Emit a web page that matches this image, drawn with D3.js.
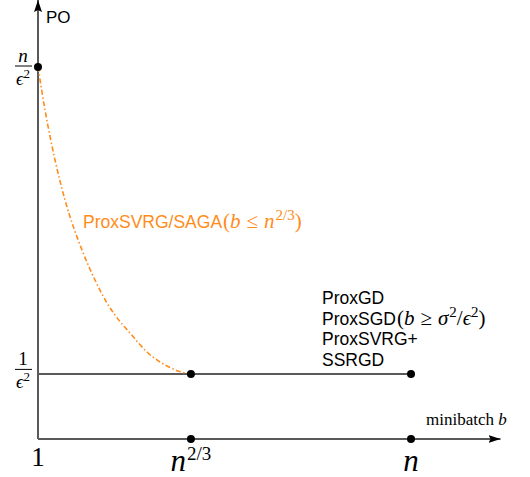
<!DOCTYPE html>
<html>
<head>
<meta charset="utf-8">
<script src="https://cdn.jsdelivr.net/npm/d3@7"></script>
<style>
  body { margin: 0; background: #fff; }
  .sans { font-family: "Liberation Sans", Arial, sans-serif; }
  .math { font-family: "Liberation Serif", "DejaVu Serif", serif; font-style: italic; }
  .rm { font-family: "Liberation Serif", "DejaVu Serif", serif; }
</style>
</head>
<body>
<div id="chart"></div>
<script>
// marked points (minibatch position, PO level), both on a conceptual 0..1 scale
var pointB = [0, 0.41, 1, 0.41, 1];
var pointPO = [1, 0.175, 0.175, 0, 0];

// tick positions and labels
var xTickPos = [0, 0.41, 1];
var xTickBase = ["1", "n", "n"];
var xTickSup = ["", "2/3", ""];
var yTickPos = [1, 0.175];
var yTickNum = ["n", "1"];

// ProxSVRG/SAGA curve
var curveB = [0, 0.0188, 0.0456, 0.0724, 0.118, 0.1528, 0.185, 0.2064, 0.2466, 0.2922, 0.3458, 0.3753, 0.41];
var curvePO = [1, 0.8844, 0.75, 0.6425, 0.5081, 0.4274, 0.3656, 0.3333, 0.2849, 0.2339, 0.1962, 0.1828, 0.175];

// flat line for ProxGD etc.
var flatB = [0, 1];
var flatPO = [0.175, 0.175];

var labelLines = ["ProxGD", "ProxSGD", "ProxSVRG+", "SSRGD"];

var width = 530, height = 477;
var grey = "#5a5a5a", orange = "#ff8c1a";

var svg = d3.select("#chart")
    .append("svg")
    .attr("width", width)
    .attr("height", height);

var x = d3.scaleLinear().domain([0, 1]).range([38, 411]);
var y = d3.scaleLinear().domain([0, 1]).range([439, 67]);

// arrow heads
var defs = svg.append("defs");
defs.append("marker")
    .attr("id", "arrow")
    .attr("viewBox", "0 0 12 8")
    .attr("refX", 12).attr("refY", 4)
    .attr("markerWidth", 12).attr("markerHeight", 8)
    .attr("markerUnits", "userSpaceOnUse")
    .attr("orient", "auto")
    .append("path")
    .attr("d", "M0,0 L12,4 L0,8 L2,4 Z")
    .attr("fill", "#000");

// axes
svg.append("line")
    .attr("x1", x(0)).attr("y1", y(0))
    .attr("x2", x(1.24)).attr("y2", y(0))
    .attr("stroke", grey).attr("stroke-width", 2)
    .attr("marker-end", "url(#arrow)");
svg.append("line")
    .attr("x1", x(0)).attr("y1", y(0))
    .attr("x2", x(0)).attr("y2", y(1.18))
    .attr("stroke", grey).attr("stroke-width", 2)
    .attr("marker-end", "url(#arrow)");

// flat line
var flatLine = d3.line()
    .x(function(d) { return x(d[0]); })
    .y(function(d) { return y(d[1]); });
svg.append("path")
    .datum(flatB.map(function(b, i) { return [b, flatPO[i]]; }))
    .attr("d", flatLine)
    .attr("fill", "none")
    .attr("stroke", grey)
    .attr("stroke-width", 2);

// dash-dot curve
var curveLine = d3.line()
    .x(function(d) { return x(d[0]); })
    .y(function(d) { return y(d[1]); })
    .curve(d3.curveMonotoneX);
svg.append("path")
    .datum(curveB.map(function(b, i) { return [b, curvePO[i]]; }))
    .attr("d", curveLine)
    .attr("fill", "none")
    .attr("stroke", orange)
    .attr("stroke-width", 1.6)
    .attr("stroke-dasharray", "5,2.5,1.5,2.5");

// dots
svg.append("g")
    .selectAll("circle")
    .data(pointB)
    .enter()
    .append("circle")
    .attr("cx", function(d) { return x(d); })
    .attr("cy", function(d, i) { return y(pointPO[i]); })
    .attr("r", 4)
    .attr("fill", "#000");

// x tick labels
var xt = svg.append("g")
    .selectAll("text")
    .data(xTickPos)
    .enter()
    .append("text")
    .attr("x", function(d) { return x(d); })
    .attr("y", function(d, i) { return i == 0 ? 466 : 471; })
    .attr("text-anchor", "middle");
xt.append("tspan")
    .attr("class", function(d, i) { return i == 0 ? "rm" : "math"; })
    .attr("font-size", function(d, i) { return i == 0 ? 27 : 31; })
    .text(function(d, i) { return xTickBase[i]; });
xt.append("tspan")
    .attr("class", "rm")
    .attr("font-size", 19)
    .attr("dx", 1)
    .attr("dy", -11)
    .text(function(d, i) { return xTickSup[i]; });

// y tick labels as fractions
var yt = svg.append("g")
    .selectAll("g")
    .data(yTickPos)
    .enter()
    .append("g")
    .attr("transform", function(d, i) { return "translate(23," + (y(d) + (i == 0 ? 2.5 : -1)) + ")"; });
yt.append("text")
    .attr("class", function(d, i) { return i == 0 ? "math" : "rm"; })
    .attr("font-size", 19)
    .attr("text-anchor", "middle")
    .attr("y", -8)
    .text(function(d, i) { return yTickNum[i]; });
yt.append("line")
    .attr("x1", -8).attr("x2", 9)
    .attr("y1", -3.5).attr("y2", -3.5)
    .attr("stroke", "#000").attr("stroke-width", 1);
var den = yt.append("text")
    .attr("text-anchor", "middle")
    .attr("y", 15);
den.append("tspan").attr("class", "math").attr("font-size", 19).text("\u03f5");
den.append("tspan").attr("class", "rm").attr("font-size", 13).attr("dy", -7).text("2");

// axis titles
svg.append("text")
    .attr("class", "sans")
    .attr("x", 46).attr("y", 23)
    .attr("font-size", 17)
    .text("PO");

var mb = svg.append("text")
    .attr("class", "rm")
    .attr("x", 426).attr("y", 425)
    .attr("font-size", 17);
mb.append("tspan").text("minibatch ");
mb.append("tspan").attr("class", "math").text("b");

// orange label
var ol = svg.append("text")
    .attr("x", 83).attr("y", 228)
    .attr("font-size", 21)
    .attr("fill", orange);
ol.append("tspan").attr("class", "sans").attr("font-size", 17.5).text("ProxSVRG/SAGA");
ol.append("tspan").attr("class", "rm").attr("dx", 1).text("(");
ol.append("tspan").attr("class", "math").text("b");
ol.append("tspan").attr("class", "rm").attr("dx", 6).text("\u2264");
ol.append("tspan").attr("class", "math").attr("dx", 6).text("n");
ol.append("tspan").attr("class", "rm").attr("font-size", 15).attr("dx", 1).attr("dy", -8).text("2/3");
ol.append("tspan").attr("class", "rm").attr("dy", 8).text(")");

// black label block
var bl = svg.append("g")
    .selectAll("text")
    .data(labelLines)
    .enter()
    .append("text")
    .attr("x", 322)
    .attr("y", function(d, i) { return 304 + i * 20.5; })
    .attr("font-size", 21);
bl.append("tspan").attr("class", "sans").attr("font-size", 17.5).text(function(d) { return d; });

var sgd = d3.select(bl.nodes()[1]);
sgd.append("tspan").attr("class", "rm").attr("dx", 1).text("(");
sgd.append("tspan").attr("class", "math").text("b");
sgd.append("tspan").attr("class", "rm").attr("dx", 6).text("\u2265");
sgd.append("tspan").attr("class", "math").attr("dx", 6).text("\u03c3");
sgd.append("tspan").attr("class", "rm").attr("font-size", 15).attr("dx", 1).attr("dy", -8).text("2");
sgd.append("tspan").attr("class", "rm").attr("dy", 8).text("/");
sgd.append("tspan").attr("class", "math").text("\u03f5");
sgd.append("tspan").attr("class", "rm").attr("font-size", 15).attr("dy", -8).text("2");
sgd.append("tspan").attr("class", "rm").attr("dy", 8).text(")");
</script>
</body>
</html>
